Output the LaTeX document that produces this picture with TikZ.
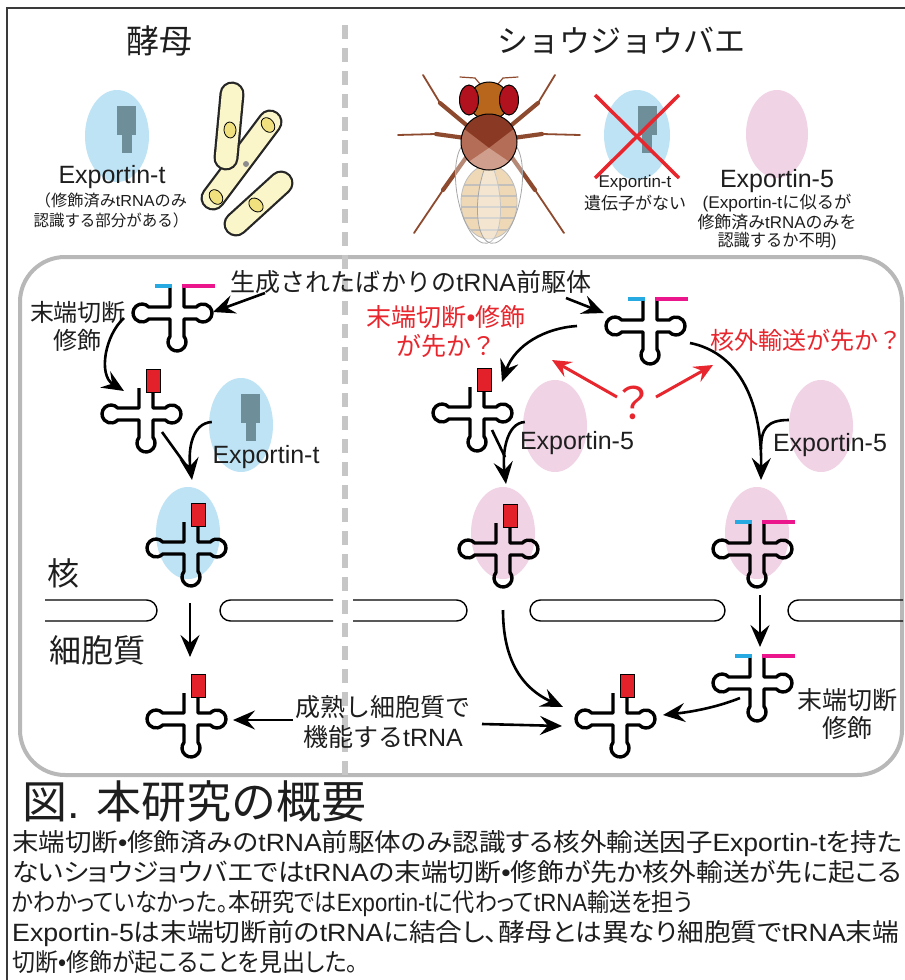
\documentclass[tikz,border=0pt]{standalone}
\usepackage{fontspec}
\usepackage{graphicx}
\setmainfont{Liberation Sans}
\newfontfamily\jpfont{Noto Sans CJK JP}
\newfontfamily\jpcapfont[RawFeature=+palt]{Noto Sans CJK JP}
\usetikzlibrary{arrows.meta,shapes.geometric,calc}

% switch automatically between the Latin font and the Japanese font
\newcommand\jpcurrent{\jpfont}
\XeTeXinterchartokenstate=1
\newXeTeXintercharclass\jpclass
\newcount\jpcode
\jpcode="3000
\loop\ifnum\jpcode<"A000
  \XeTeXcharclass\jpcode=\jpclass
  \advance\jpcode by 1
\repeat
\jpcode="FF00
\loop\ifnum\jpcode<"FFF0
  \XeTeXcharclass\jpcode=\jpclass
  \advance\jpcode by 1
\repeat
\XeTeXcharclass"2022=0
\XeTeXinterchartoks 0 \jpclass={\jpcurrent}
\XeTeXinterchartoks 4095 \jpclass={\jpcurrent}
\XeTeXinterchartoks \jpclass 0={\rmfamily}
\XeTeXinterchartoks \jpclass 4095={\rmfamily}

% set one caption line, stretched or squeezed to a given width (in pt)
\newsavebox\capbox
\newcommand\fitline[2]{%
  \sbox\capbox{#2}%
  \pgfmathsetmacro\capratio{#1/\the\wd\capbox}%
  \scalebox{\capratio}[1]{\usebox\capbox}}

\definecolor{exptblue}{HTML}{BDE3F5}
\definecolor{exppink}{HTML}{F1D3E6}
\definecolor{tagc}{HTML}{6E8E9A}
\definecolor{ccared}{HTML}{E3212B}
\definecolor{cyanbar}{HTML}{27AAE1}
\definecolor{magbar}{HTML}{EC168C}
\definecolor{qred}{HTML}{E8262D}
\definecolor{cellgray}{HTML}{B8B8B8}
\definecolor{divgray}{HTML}{C6C6C6}
\definecolor{framec}{HTML}{3A3A3A}
\definecolor{yeastfill}{HTML}{FBF6C9}
\definecolor{yeastnuc}{HTML}{F0E17E}
\definecolor{legc}{HTML}{8E4A2E}
\definecolor{headc}{HTML}{B7661C}
\definecolor{eyec}{HTML}{B2121D}
\definecolor{thordark}{HTML}{8A3A24}
\definecolor{thormid}{HTML}{B46E58}
\definecolor{thorlight}{HTML}{D09E8C}
\definecolor{abdc}{HTML}{E5C48F}
\definecolor{stripec}{HTML}{A39E96}
\definecolor{inkc}{HTML}{1E1E1E}

\tikzset{
  trnaline/.style={line width=3.4pt, line join=round, draw=black},
  leaderbar/.style={line width=4pt, draw=cyanbar},
  trailerbar/.style={line width=4pt, draw=magbar},
  ccabox/.style={fill=ccared, draw=black, line width=0.8pt},
  arr/.style={line width=2.6pt, -{Stealth[length=22pt,width=19pt,inset=8pt]}},
  plainarr/.style={line width=2.6pt},
  redarr/.style={line width=3pt, draw=qred, -{Stealth[length=19pt,width=17pt,inset=7pt]}},
  blueblob/.style={ellipse, fill=exptblue, inner sep=0pt, minimum width=64pt, minimum height=92pt},
  pinkblob/.style={ellipse, fill=exppink, inner sep=0pt, minimum width=64pt, minimum height=92pt},
  membrane/.style={line width=1.4pt, draw=black},
  lbl/.style={inner sep=0pt, align=center, text=inkc},
  cellwall/.style={line width=25pt, line cap=round, draw=black!85},
  cellbody/.style={line width=20.5pt, line cap=round, draw=yeastfill},
  nucleus/.style={fill=yeastnuc, draw=black, line width=0.8pt},
  leg/.style={line width=4.2pt, line cap=round, draw=legc},
  tarsus/.style={line width=1.8pt, line cap=round, draw=legc},
  wing/.style={fill=white, fill opacity=0.35, draw=black!35, line width=0.8pt},
  capline/.style={anchor=base west, inner sep=0pt, text=inkc,
    font={\fontsize{25}{27}\selectfont\let\jpcurrent\jpcapfont}},
  % cloverleaf tRNA outline, origin at the crossing of the arms
  trna/.pic={
    \draw[trnaline] (-7,-26) -- (-7,-6) -- (-28.29,-6)
      arc[start angle=-41.8, end angle=-318.2, radius=9]
      -- (-7,6) -- (-7,23.34)
      arc[start angle=218.96, end angle=-38.96, radius=9]
      -- (7,6) -- (19.29,6)
      arc[start angle=138.2, end angle=-138.2, radius=9]
      -- (7,-6) -- (7,-26);
  },
  pretrna/.pic={
    \pic {trna};
    \draw[leaderbar] (-22,-27.5) -- (-5.3,-27.5);
    \draw[trailerbar] (5.3,-27.5) -- (38,-27.5);
  },
  maturetrna/.pic={
    \pic {trna};
    \draw[ccabox] (0,-45) rectangle (14,-22);
  },
  exptag/.pic={
    \fill[tagc] (-9.5,0) rectangle (9.5,29);
    \fill[tagc] (-5,29) rectangle (5,47);
  },
}

\begin{document}
\begin{tikzpicture}[x=1pt,y=-1pt]
\useasboundingbox (0,0) rectangle (905,980);
\fill[white] (0,0) rectangle (905,980);

% outer frame
\draw[framec, line width=2pt] (7,980) -- (7,8) -- (905,8);

% headings
\node[lbl, font=\fontsize{33}{36}\selectfont] (tyeast) at (159,41) {酵母};
\node[lbl, font=\fontsize{31}{34}\selectfont] (tfly) at (621,41) {ショウジョウバエ};

% ---------- yeast: Exportin-t and cells ----------
\node[blueblob] (eYtop) at (117,136) {};
\pic at (126.5,106) {exptag};
\node[lbl, font=\fontsize{25}{28}\selectfont] (lYexp) at (112,177) {Exportin-t};
\node[lbl, font=\fontsize{16}{20}\selectfont] (lYnote1) at (111,200) {\fitline{152}{（修飾済みtRNAのみ}};
\node[lbl, font=\fontsize{16}{20}\selectfont] (lYnote2) at (111,220) {\fitline{155}{認識する部分がある）}};

\draw[cellwall] (270,122) -- (213,198);
\draw[cellbody] (270,122) -- (213,198);
\fill[black!45] (246,164) circle[radius=3];
\draw[nucleus, rotate around={-53:(268,125)}] (268,125) ellipse[x radius=8, y radius=6];
\draw[nucleus, rotate around={-53:(216,197)}] (216,197) ellipse[x radius=8, y radius=6];
\draw[cellwall] (232,94) -- (226,158);
\draw[cellbody] (232,94) -- (226,158);
\draw[nucleus, rotate around={-85:(230,130)}] (230,130) ellipse[x radius=8, y radius=6];
\draw[cellwall] (281,183) -- (236,224);
\draw[cellbody] (281,183) -- (236,224);
\draw[nucleus, rotate around={-42:(256,205)}] (256,205) ellipse[x radius=8, y radius=6];

% ---------- fruit fly ----------
\draw[leg] (470,128) -- (440,103);  \draw[tarsus] (440,103) -- (423,75);
\draw[leg] (508,128) -- (538,103);  \draw[tarsus] (538,103) -- (555,75);
\draw[leg] (465,138) -- (436,134);  \draw[tarsus] (436,134) -- (398,135);
\draw[leg] (513,138) -- (542,134);  \draw[tarsus] (542,134) -- (580,135);
\draw[leg] (470,152) -- (443,190);  \draw[tarsus] (443,190) -- (414,233);
\draw[leg] (508,152) -- (535,190);  \draw[tarsus] (535,190) -- (564,233);
\draw[tarsus, line width=1.2pt] (480,84) -- (475,78) -- (460,77);
\draw[tarsus, line width=1.2pt] (498,84) -- (503,78) -- (518,77);
\fill[abdc] (489,202) ellipse[x radius=28, y radius=37];
\begin{scope}
  \clip (489,202) ellipse[x radius=28, y radius=37];
  \foreach \yy in {185,196,207,218,230}
    \draw[stripec, line width=1.1pt] (455,\yy) -- (525,\yy);
\end{scope}
\draw[black!40, line width=0.8pt] (489,202) ellipse[x radius=28, y radius=37];
\draw[wing, rotate around={10:(478,192)}] (478,192) ellipse[x radius=21, y radius=52];
\draw[wing, rotate around={-10:(500,192)}] (500,192) ellipse[x radius=21, y radius=52];
\draw[fill=headc, draw=black, line width=1pt] (489,101) ellipse[x radius=20, y radius=19];
\draw[fill=eyec, draw=black, line width=1pt] (469,100) ellipse[x radius=9.5, y radius=15];
\draw[fill=eyec, draw=black, line width=1pt] (509,100) ellipse[x radius=9.5, y radius=15];
\begin{scope}
  \clip (489,142) circle[radius=28];
  \fill[thordark] (455,110) rectangle (525,175);
  \fill[thormid] (489,148) -- (455,122) -- (450,175) -- (528,175) -- (523,122) -- cycle;
  \fill[thorlight] (489,148) -- (445,178) -- (533,178) -- cycle;
\end{scope}
\draw[black, line width=1pt] (489,142) circle[radius=28];

% ---------- fruit fly: Exportin-t missing, Exportin-5 ----------
\node[blueblob, minimum width=66pt, minimum height=90pt] (eFtop) at (637,135) {};
\pic at (647,106) {exptag};
\draw[qred, line width=3.5pt] (595,95) -- (679,178);
\draw[qred, line width=3.5pt] (679,95) -- (595,178);
\node[lbl, font=\fontsize{17}{20}\selectfont] (lFexp) at (635,183) {Exportin-t};
\node[lbl, font=\fontsize{17}{20}\selectfont] (lFnone) at (635,203) {遺伝子がない};
\node[pinkblob, minimum width=62pt, minimum height=88pt] (e5top) at (777,134) {};
\node[lbl, font=\fontsize{25}{28}\selectfont] (l5) at (777,181) {Exportin-5};
\node[lbl, font=\fontsize{17}{19}\selectfont] (l5note1) at (777,203) {\fitline{149}{(Exportin-tに似るが}};
\node[lbl, font=\fontsize{17}{19}\selectfont] (l5note2) at (777,222) {\fitline{159}{修飾済みtRNAのみを}};
\node[lbl, font=\fontsize{17}{19}\selectfont] (l5note3) at (777,241) {\fitline{119}{認識するか不明)}};

% ---------- cell ----------
\draw[cellgray, line width=4pt, rounded corners=45pt] (20,257) rectangle (902,775);
\draw[divgray, line width=6pt, dash pattern=on 14pt off 9pt] (345,25) -- (345,775);

% nuclear envelope
\draw[membrane] (45,600) -- (146.5,600) arc[start angle=-90, end angle=90, radius=10.5] -- (45,621);
\draw[membrane] (333,600) -- (230.5,600) arc[start angle=-90, end angle=-270, radius=10.5] -- (333,621);
\draw[membrane] (353,600) -- (456.5,600) arc[start angle=-90, end angle=90, radius=10.5] -- (353,621);
\draw[membrane] (540.5,600) -- (714.5,600) arc[start angle=-90, end angle=90, radius=10.5]
  -- (540.5,621) arc[start angle=90, end angle=270, radius=10.5] -- cycle;
\draw[membrane] (903,600) -- (798.5,600) arc[start angle=-90, end angle=-270, radius=10.5] -- (903,621);

\node[lbl, font=\fontsize{32}{34}\selectfont] (lnuc) at (63,573) {核};
\node[lbl, font=\fontsize{32}{34}\selectfont] (lcyt) at (97,650) {細胞質};

% exportins inside the cell
\node[blueblob, minimum height=94pt] (eYc) at (241,425) {};
\pic at (250.5,394) {exptag};
\node[blueblob] (eY3) at (188,533) {};
\node[pinkblob] (eFa) at (555,426) {};
\node[pinkblob] (eF3) at (503,533) {};
\node[pinkblob] (eF4) at (757,533) {};
\node[pinkblob] (eFb) at (821,426) {};

% tRNA positions
\coordinate (Y1) at (177,313);
\coordinate (Y2) at (146,414);
\coordinate (Y3) at (191,548);
\coordinate (Y4) at (191,719);
\coordinate (F1) at (650,326);
\coordinate (F2) at (477,413);
\coordinate (F3) at (503,549);
\coordinate (F4) at (757,549);
\coordinate (F5) at (757,683);
\coordinate (F6) at (620,719);

\pic at (Y1) {pretrna};
\pic at (Y2) {maturetrna};
\pic at (Y3) {maturetrna};
\pic at (Y4) {maturetrna};
\pic at (F1) {pretrna};
\pic at (F2) {maturetrna};
\pic at (F3) {maturetrna};
\pic at (F4) {pretrna};
\pic at (F5) {pretrna};
\pic at (F6) {maturetrna};

% labels in the cell
\node[lbl, font=\fontsize{25}{28}\selectfont] (newlbl) at (411,282) {生成されたばかりのtRNA前駆体};
\node[lbl, font=\fontsize{24}{28}\selectfont] (lYproc) at (78,326) {末端切断\\修飾};
\node[lbl, font=\fontsize{25}{29}\selectfont, text=qred] (lq1) at (446,332) {末端切断•修飾\\が先か？};
\node[lbl, font=\fontsize{24}{28}\selectfont, text=qred] (lq2) at (806,340) {核外輸送が先か？};
\node[lbl, font=\fontsize{44}{46}\selectfont, text=qred] (qmark) at (633,403) {？};
\node[lbl, font=\fontsize{25}{28}\selectfont] (lYct) at (266,457) {Exportin-t};
\node[lbl, font=\fontsize{25}{28}\selectfont] (lF5a) at (577,443) {Exportin-5};
\node[lbl, font=\fontsize{25}{28}\selectfont] (lF5b) at (830,445) {Exportin-5};
\node[lbl, font=\fontsize{25}{30}\selectfont] (maturelbl) at (383,722) {成熟し細胞質で\\機能するtRNA};
\node[lbl, font=\fontsize{25}{28}\selectfont] (lFproc) at (847,714) {末端切断\\修飾};

% yeast pathway
\draw[arr] ($(newlbl)+(-146,11)$) -- ($(Y1)+(36,-1)$);
\draw[arr] ($(Y1)+(-53,5)$) .. controls ($(Y1)+(-72,22)$) and ($(Y2)+(-48,-39)$) .. ($(Y2)+(-22,-23)$);
\draw[plainarr] ($(Y2)+(16,18)$) -- ($(Y3)+(-3,-80)$);
\draw[arr] ($(eYc.west)+(3,-3)$) .. controls ($(eYc.west)+(-17,-2)$) and ($(Y3)+(-3,-98)$) .. ($(Y3)+(1,-68)$);
\draw[arr] ($(Y3)+(-1,55)$) -- ($(Y4)+(-1,-62)$);
\draw[arr] ($(maturelbl)+(-90,-2)$) -- ($(Y4)+(42,1)$);

% fruit fly pathway
\draw[arr] ($(newlbl)+(155,16)$) -- ($(F1)+(-46,-13)$);
\draw[arr] ($(F1)+(-73,0)$) .. controls ($(F1)+(-105,2)$) and ($(F2)+(38,-68)$) .. ($(F2)+(25,-31)$);
\draw[plainarr] ($(F2)+(15,17)$) -- ($(F3)+(2,-92)$);
\draw[arr] ($(eFa.west)+(2,-4)$) .. controls ($(eFa.west)+(-16,-3)$) and ($(F3)+(-1,-97)$) .. ($(F3)+(3,-65)$);
\draw[arr] ($(F1)+(40,17)$) .. controls ($(F1)+(85,26)$) and ($(F4)+(5,-154)$) .. ($(F4)+(4,-69)$);
\draw[plainarr] ($(eFb.west)+(0,-6)$) .. controls ($(eFb.west)+(-22,-6)$) and ($(F4)+(4,-120)$) .. ($(F4)+(4,-100)$);
\draw[arr] ($(F4)+(3,46)$) -- ($(F5)+(3,-36)$);
\draw[arr] ($(F5)+(-17,15)$) .. controls ($(F5)+(-42,25)$) and ($(F6)+(70,-7)$) .. ($(F6)+(43,-4)$);
\draw[arr] ($(F3)+(0,61)$) .. controls ($(F3)+(0,101)$) and ($(F6)+(-105,-34)$) .. ($(F6)+(-57,-12)$);
\draw[arr] ($(maturelbl)+(99,2)$) -- ($(F6)+(-58,7)$);
\draw[redarr] ($(qmark)+(-16,-6)$) -- ($(qmark)+(-81,-43)$);
\draw[redarr] ($(qmark)+(23,-6)$) -- ($(qmark)+(80,-38)$);

% caption
\node[anchor=base west, inner sep=0pt, text=inkc, font=\fontsize{45}{48}\selectfont] (captitle) at (22,818) {図. 本研究の概要};
\node[capline] (cap1) at (12,851) {\fitline{890}{末端切断•修飾済みのtRNA前駆体のみ認識する核外輸送因子Exportin-tを持た}};
\node[capline] (cap2) at (12,881) {\fitline{890}{ないショウジョウバエではtRNAの末端切断•修飾が先か核外輸送が先に起こる}};
\node[capline] (cap3) at (12,911) {\fitline{680}{かわかっていなかった。本研究ではExportin-tに代わってtRNA輸送を担う}};
\node[capline] (cap4) at (12,941) {\fitline{887}{Exportin-5は末端切断前のtRNAに結合し、酵母とは異なり細胞質でtRNA末端}};
\node[capline] (cap5) at (12,971) {\fitline{346}{切断•修飾が起こることを見出した。}};
\end{tikzpicture}
\end{document}
